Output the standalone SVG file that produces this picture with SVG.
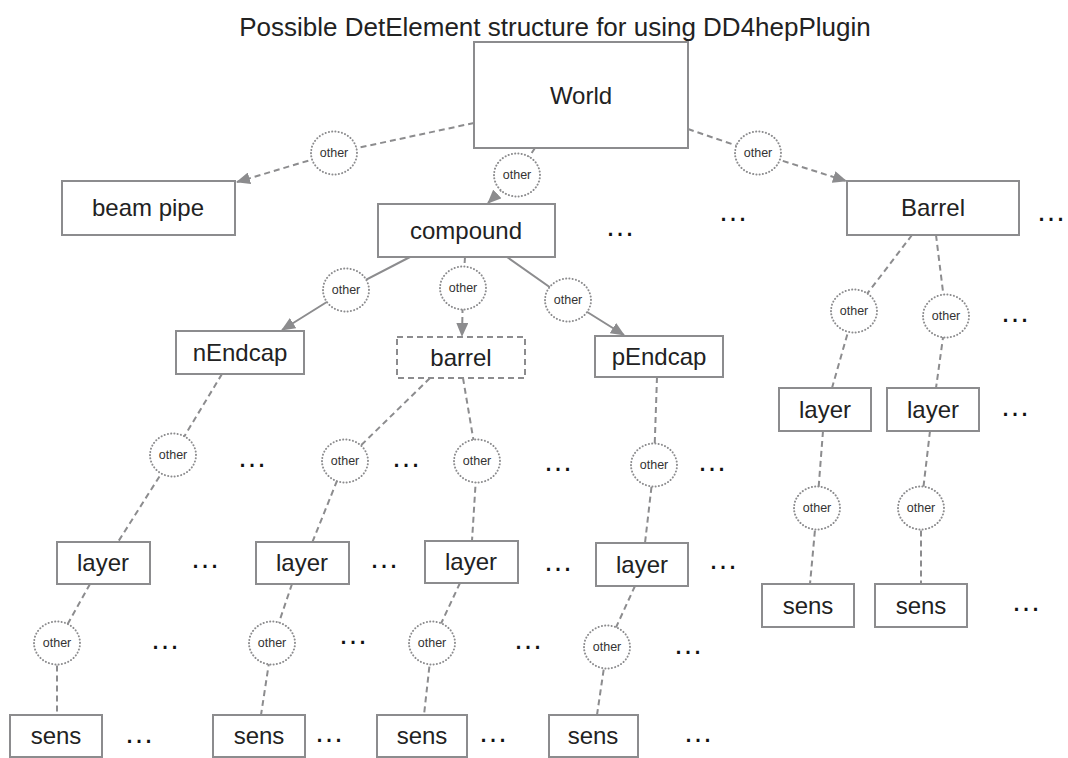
<svg xmlns="http://www.w3.org/2000/svg" width="1068" height="758" viewBox="0 0 1068 758">
  <style>
    .box { fill: #ffffff; stroke: #8c8c8e; stroke-width: 2; }
    .box-dash { fill: #ffffff; stroke: #8c8c8e; stroke-width: 2; stroke-dasharray: 6 4; }
    .lbl { font-family: "Liberation Sans", Arial, sans-serif; font-size: 24px; fill: #222222; text-anchor: middle; }
    .title { font-family: "Liberation Sans", Arial, sans-serif; font-size: 26px; fill: #222222; text-anchor: middle; }
    .rel { fill: #ffffff; stroke: #8c8c8e; stroke-width: 2; stroke-dasharray: 0.1 3.2; stroke-linecap: round; }
    .rel-t { font-family: "Liberation Sans", Arial, sans-serif; font-size: 12.5px; fill: #333333; text-anchor: middle; }
    .dash { fill: none; stroke: #8c8c8e; stroke-width: 2; stroke-dasharray: 6 4; }
    .solid { fill: none; stroke: #8c8c8e; stroke-width: 2; }
    .arr { marker-end: url(#head); }
    .more { font-family: "Liberation Sans", Arial, sans-serif; font-size: 30px; fill: #111111; text-anchor: middle; }
  </style>
  <defs>
    <marker id="head" markerUnits="userSpaceOnUse" markerWidth="14" markerHeight="12" refX="13" refY="6" orient="auto">
      <path d="M0,0 L14,6 L0,12 z" fill="#8c8c8e"/>
    </marker>
  </defs>

  <rect width="1068" height="758" fill="#ffffff"/>

  <text class="title" x="555" y="36">Possible DetElement structure for using DD4hepPlugin</text>

  <!-- connectors: parent -> relation bubble -> child -->
  <g id="connectors">
    <polyline class="dash arr" points="474,123 334,153 237,182"/>
    <polyline class="dash arr" points="535,148 517,175 488,203"/>
    <polyline class="dash arr" points="688,129 758,153 846,181"/>
    <polyline class="solid arr" points="410,257 346,290 282,330"/>
    <polyline class="dash arr" points="465,257 463,288 462,336"/>
    <polyline class="solid arr" points="507,257 568,300 624,335"/>
    <polyline class="dash" points="912,235 854,311 832,388"/>
    <polyline class="dash" points="936,235 946,316 936,388"/>
    <polyline class="dash" points="823,431 817,508 810,584"/>
    <polyline class="dash" points="930,431 921,508 921,584"/>
    <polyline class="dash" points="222,374 173,455 118,542"/>
    <polyline class="dash" points="430,378 345,461 312,543"/>
    <polyline class="dash" points="463,378 477,461 472,541"/>
    <polyline class="dash" points="657,377 654,465 645,543"/>
    <polyline class="dash" points="90,584 57,643 57,715"/>
    <polyline class="dash" points="292,584 272,643 261,715"/>
    <polyline class="dash" points="460,583 432,643 424,715"/>
    <polyline class="dash" points="635,586 607,647 597,715"/>
  </g>

  <!-- "other" relation bubbles -->
  <g id="relations">
    <g id="rel-beampipe"><ellipse class="rel" cx="334" cy="153" rx="23" ry="21.5"/><text class="rel-t" x="334" y="157">other</text></g>
    <g id="rel-compound"><ellipse class="rel" cx="517" cy="175" rx="23" ry="21.5"/><text class="rel-t" x="517" y="179">other</text></g>
    <g id="rel-Barrel"><ellipse class="rel" cx="758" cy="153" rx="23" ry="21.5"/><text class="rel-t" x="758" y="157">other</text></g>
    <g id="rel-nEndcap"><ellipse class="rel" cx="346" cy="290" rx="23" ry="21.5"/><text class="rel-t" x="346" y="294">other</text></g>
    <g id="rel-barrel"><ellipse class="rel" cx="463" cy="288" rx="23" ry="21.5"/><text class="rel-t" x="463" y="292">other</text></g>
    <g id="rel-pEndcap"><ellipse class="rel" cx="568" cy="300" rx="23" ry="21.5"/><text class="rel-t" x="568" y="304">other</text></g>
    <g id="rel-rlayer1"><ellipse class="rel" cx="854" cy="311" rx="23" ry="21.5"/><text class="rel-t" x="854" y="315">other</text></g>
    <g id="rel-rlayer2"><ellipse class="rel" cx="946" cy="316" rx="23" ry="21.5"/><text class="rel-t" x="946" y="320">other</text></g>
    <g id="rel-rsens1"><ellipse class="rel" cx="817" cy="508" rx="23" ry="21.5"/><text class="rel-t" x="817" y="512">other</text></g>
    <g id="rel-rsens2"><ellipse class="rel" cx="921" cy="508" rx="23" ry="21.5"/><text class="rel-t" x="921" y="512">other</text></g>
    <g id="rel-layer1"><ellipse class="rel" cx="173" cy="455" rx="23" ry="21.5"/><text class="rel-t" x="173" y="459">other</text></g>
    <g id="rel-layer2"><ellipse class="rel" cx="345" cy="461" rx="23" ry="21.5"/><text class="rel-t" x="345" y="465">other</text></g>
    <g id="rel-layer3"><ellipse class="rel" cx="477" cy="461" rx="23" ry="21.5"/><text class="rel-t" x="477" y="465">other</text></g>
    <g id="rel-layer4"><ellipse class="rel" cx="654" cy="465" rx="23" ry="21.5"/><text class="rel-t" x="654" y="469">other</text></g>
    <g id="rel-sens1"><ellipse class="rel" cx="57" cy="643" rx="23" ry="21.5"/><text class="rel-t" x="57" y="647">other</text></g>
    <g id="rel-sens2"><ellipse class="rel" cx="272" cy="643" rx="23" ry="21.5"/><text class="rel-t" x="272" y="647">other</text></g>
    <g id="rel-sens3"><ellipse class="rel" cx="432" cy="643" rx="23" ry="21.5"/><text class="rel-t" x="432" y="647">other</text></g>
    <g id="rel-sens4"><ellipse class="rel" cx="607" cy="647" rx="23" ry="21.5"/><text class="rel-t" x="607" y="651">other</text></g>
  </g>

  <!-- detector elements -->
  <g id="world"><rect class="box" x="474" y="42" width="214" height="106"/><text class="lbl" x="581" y="104">World</text></g>
  <g id="beampipe"><rect class="box" x="62" y="181" width="173" height="54"/><text class="lbl" x="148" y="216">beam pipe</text></g>
  <g id="compound"><rect class="box" x="378" y="204" width="177" height="53"/><text class="lbl" x="466" y="239">compound</text></g>
  <g id="Barrel"><rect class="box" x="847" y="181" width="172" height="54"/><text class="lbl" x="933" y="216">Barrel</text></g>
  <g id="nEndcap"><rect class="box" x="176" y="331" width="128" height="43"/><text class="lbl" x="240" y="361">nEndcap</text></g>
  <g id="barrel"><rect class="box-dash" x="397" y="337" width="128" height="41"/><text class="lbl" x="461" y="366">barrel</text></g>
  <g id="pEndcap"><rect class="box" x="595" y="336" width="128" height="41"/><text class="lbl" x="659" y="365">pEndcap</text></g>
  <g id="rlayer1"><rect class="box" x="779" y="388" width="92" height="43"/><text class="lbl" x="825" y="418">layer</text></g>
  <g id="rlayer2"><rect class="box" x="887" y="388" width="92" height="43"/><text class="lbl" x="933" y="418">layer</text></g>
  <g id="rsens1"><rect class="box" x="762" y="584" width="92" height="43"/><text class="lbl" x="808" y="614">sens</text></g>
  <g id="rsens2"><rect class="box" x="875" y="584" width="92" height="43"/><text class="lbl" x="921" y="614">sens</text></g>
  <g id="layer1"><rect class="box" x="57" y="542" width="93" height="42"/><text class="lbl" x="103" y="571">layer</text></g>
  <g id="layer2"><rect class="box" x="256" y="542" width="93" height="42"/><text class="lbl" x="302" y="571">layer</text></g>
  <g id="layer3"><rect class="box" x="425" y="541" width="93" height="42"/><text class="lbl" x="471" y="570">layer</text></g>
  <g id="layer4"><rect class="box" x="596" y="543" width="92" height="43"/><text class="lbl" x="642" y="573">layer</text></g>
  <g id="sens1"><rect class="box" x="10" y="715" width="92" height="42"/><text class="lbl" x="56" y="744">sens</text></g>
  <g id="sens2"><rect class="box" x="213" y="715" width="92" height="42"/><text class="lbl" x="259" y="744">sens</text></g>
  <g id="sens3"><rect class="box" x="377" y="715" width="90" height="42"/><text class="lbl" x="422" y="744">sens</text></g>
  <g id="sens4"><rect class="box" x="549" y="715" width="89" height="42"/><text class="lbl" x="593" y="744">sens</text></g>

  <!-- elided siblings -->
  <g id="ellipses">
    <text class="more" x="620" y="236">…</text>
    <text class="more" x="733" y="221">…</text>
    <text class="more" x="1051" y="221">…</text>
    <text class="more" x="1015" y="322">…</text>
    <text class="more" x="1015" y="416">…</text>
    <text class="more" x="1026" y="611">…</text>
    <text class="more" x="252" y="467">…</text>
    <text class="more" x="406" y="467">…</text>
    <text class="more" x="558" y="471">…</text>
    <text class="more" x="712" y="471">…</text>
    <text class="more" x="205" y="568">…</text>
    <text class="more" x="384" y="568">…</text>
    <text class="more" x="558" y="571">…</text>
    <text class="more" x="723" y="569">…</text>
    <text class="more" x="165" y="649">…</text>
    <text class="more" x="353" y="644">…</text>
    <text class="more" x="528" y="649">…</text>
    <text class="more" x="688" y="654">…</text>
    <text class="more" x="139" y="743">…</text>
    <text class="more" x="329" y="742">…</text>
    <text class="more" x="493" y="742">…</text>
    <text class="more" x="698" y="742">…</text>
  </g>
</svg>
